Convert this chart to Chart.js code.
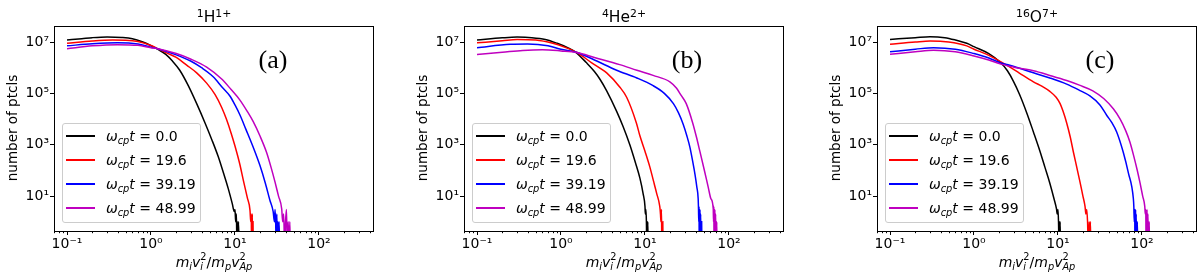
<!DOCTYPE html>
<html><head><meta charset="utf-8">
<script src="https://cdn.jsdelivr.net/npm/chart.js@4.4.1/dist/chart.umd.min.js"></script>
<style>
html,body{margin:0;padding:0;background:#fff;}
#wrap{position:relative;width:1200px;height:276px;overflow:hidden;font-family:"DejaVu Sans",sans-serif;color:#000;}
.panel{position:absolute;top:0;width:400px;height:276px;}
.panel canvas{position:absolute;left:0;top:0;}
.ttl{position:absolute;left:54px;width:320px;text-align:center;top:8px;font-size:15.5px;line-height:18px;white-space:nowrap;}
.ttl sup{font-size:70%;line-height:0;vertical-align:0.45em;}
.ylab{position:absolute;left:-88px;top:120px;width:200px;text-align:center;transform:rotate(-90deg);font-size:13.5px;line-height:16px;white-space:nowrap;}
.xlab{position:absolute;left:54px;width:320px;text-align:center;top:252px;font-size:14px;line-height:16px;white-space:nowrap;}
.xlab i{font-style:italic;}
.xlab sub{font-size:70%;line-height:0;vertical-align:-0.3em;font-style:italic;}
.ss{display:inline-block;vertical-align:-0.35em;font-size:70%;line-height:1.05;text-align:left;}
.ss span{display:block;}
.tag{position:absolute;font-family:"Liberation Serif","Times New Roman",serif;font-size:26px;line-height:29px;top:45px;width:60px;text-align:center;}
.leg{position:absolute;left:62px;top:123px;border:1px solid #cccccc;border-radius:3px;background:rgba(255,255,255,0.8);padding:0 4px 2px 3px;font-size:14px;box-sizing:border-box;}
.row{height:24px;display:flex;align-items:center;white-space:nowrap;}
.hl{display:inline-block;width:29px;height:2px;margin-right:11px;}
.lt i{font-style:italic;}
.lt sub{font-size:70%;line-height:0;vertical-align:-0.3em;font-style:italic;}
</style>
</head><body>
<div id="wrap"></div>
<script>
// ---------- tick labels ----------
const xTicks = [0.1, 1, 10, 100];
const xTickLabels = ['10\u207B\u00B9', '10\u2070', '10\u00B9', '10\u00B2'];
const yTicks = [10, 1e3, 1e5, 1e7];
const yTickLabels = ['10\u00B9', '10\u00B3', '10\u2075', '10\u2077'];

// ---------- series labels ----------
const timeLabels = ['0.0', '19.6', '39.19', '48.99'];
const seriesColors = ['#000000', '#ff0000', '#0000ff', '#bf00bf'];

// ---------- panel (a) 1H1+ : [energy, number of particles] ----------
const H_t0 = [[0.1,1.2e7],[0.15,1.35e7],[0.2,1.48e7],[0.3,1.58e7],[0.45,1.51e7],[0.6,1.35e7],[0.8,1.0e7],[1.0,7.24e6],[1.2,5.25e6],[1.5,3.31e6],[1.8,1.82e6],[2.2,7.94e5],[2.78,2.0e5],[3.5,3.98e4],[4.4,7.08e3],[5.3,1.58e3],[6.3,355],[7.3,79],[8.3,20],[9.3,5],[9.8,2.5],[10.0,3],[10.2,1],[10.4,2],[10.55,0.1],[10.7,1],[10.85,0.1],[11.0,1],[11.2,0.1]];
const H_t19 = [[0.1,8.9e6],[0.2,1.1e7],[0.35,1.2e7],[0.5,1.18e7],[0.7,1.05e7],[1.0,7.3e6],[1.2,5.5e6],[1.6,3.55e6],[2.0,2.51e6],[2.66,1.26e6],[3.5,6.31e5],[4.6,2.51e5],[5.8,8.91e4],[6.95,2.82e4],[7.9,1e4],[9,2.82e3],[10,891],[11.4,178],[12.6,40],[14,8.9],[15.1,2.8],[15.4,1],[15.6,2],[15.8,0.1],[16.0,1],[16.1,2],[16.2,0.1],[16.4,1],[16.5,0.1]];
const H_t39 = [[0.1,7.1e6],[0.2,8.5e6],[0.4,9.3e6],[0.7,8.3e6],[1.0,6.3e6],[1.2,5.5e6],[2,3.16e6],[3,1.78e6],[4,1e6],[5.5,4.47e5],[7,1.78e5],[8.7,7.94e4],[10,3.55e4],[11.5,1.41e4],[13.5,3.98e3],[16.5,794],[19.8,158],[23,32],[26,7.1],[28.5,2.5],[29.5,1],[30,3],[30.5,1],[31,0.1],[31.5,2],[32,0.1],[32.5,1],[33,0.1],[33.5,1],[34,0.1]];
const H_t48 = [[0.1,5.5e6],[0.2,7.1e6],[0.4,7.9e6],[0.7,7.4e6],[1.0,6.0e6],[1.2,5.5e6],[2,3.55e6],[3,2.14e6],[4.6,1.05e6],[7,3.55e5],[9,1.41e5],[11.4,5.62e4],[14,2.0e4],[16.5,7.94e3],[19.8,2.24e3],[23.8,501],[27,126],[30,35],[33,10],[36,3.2],[37,1],[38,2],[39,0.1],[40,1],[41,3],[42,0.1],[43,1],[44,0.1],[45,1],[45.5,0.1]];

// ---------- panel (b) 4He2+ ----------
const He_t0 = [[0.1,1.2e7],[0.2,1.45e7],[0.3,1.55e7],[0.45,1.48e7],[0.65,1.26e7],[0.9,8.91e6],[1.2,6.03e6],[1.5,3.98e6],[2.0,1.58e6],[2.5,7.08e5],[2.91,3.55e5],[3.5,1.26e5],[4.6,2.0e4],[5.5,5.01e3],[6.6,1e3],[7.7,200],[8.7,50],[9.5,12.6],[10,4],[10.1,2],[10.25,3],[10.4,1],[10.5,0.1],[10.6,1],[10.7,0.1],[10.8,1],[10.9,0.1]];
const He_t19 = [[0.1,9.3e6],[0.2,1.12e7],[0.3,1.26e7],[0.5,1.2e7],[0.8,8.9e6],[1.1,6.3e6],[1.55,3.9e6],[2.3,1.58e6],[3.5,6.31e5],[5.0,1.78e5],[6.05,7.08e4],[7.9,7.08e3],[8.7,2.24e3],[10,562],[11.4,141],[12.6,40],[13.8,12.6],[15,4],[15.3,2],[15.5,1],[15.7,3],[15.9,0.1],[16.0,1],[16.2,0.1],[16.3,1],[16.4,0.1]];
const He_t39 = [[0.1,6e6],[0.25,8.1e6],[0.4,8.3e6],[0.7,7.1e6],[1.0,5.2e6],[1.55,3.9e6],[2.5,2e6],[4.6,7.94e5],[8,3.98e5],[12.5,2e5],[17,1e5],[21.8,3.98e4],[25,1.78e4],[28.5,6.31e3],[31.5,2.24e3],[34.3,794],[37,224],[39.4,71],[41.5,22],[43,7.9],[43.4,3],[43.7,1],[44.0,4],[44.3,0.1],[44.6,2],[44.9,1],[45.2,3],[45.5,0.1],[45.8,1],[46.1,2],[46.4,0.1],[46.7,1],[47.0,0.1],[47.3,1],[47.6,0.1]];
const He_t48 = [[0.1,3.3e6],[0.2,4e6],[0.35,4.7e6],[0.6,5e6],[1.0,4.5e6],[1.55,3.9e6],[2.5,2.51e6],[5,1.32e6],[8,7.94e5],[12.5,5.01e5],[19.8,2.82e5],[23.8,1.58e5],[27,8.3e4],[31,3.98e4],[37,7.08e3],[41,2e3],[45,562],[51,100],[56.7,22],[61,7.9],[65,3.2],[65.5,1],[66,4],[66.5,0.1],[67,2],[67.5,1],[68,3],[68.5,0.1],[69,1],[69.5,2],[70,0.1],[70.5,1],[71,0.1],[71.5,1],[72,0.1]];

// ---------- panel (c) 16O7+ ----------
const O_t0 = [[0.1,1.26e7],[0.2,1.48e7],[0.3,1.62e7],[0.45,1.48e7],[0.6,1.2e7],[0.82,8.9e6],[1.0,6.61e6],[1.5,3.55e6],[2.04,1.66e6],[2.5,7.59e5],[2.94,3.02e5],[3.5,8.91e4],[4.24,1.78e4],[5.1,3.16e3],[6.1,562],[7,132],[8,32],[9,7.6],[9.6,3.2],[9.8,2],[10.0,3],[10.15,1],[10.3,0.1],[10.4,1],[10.5,0.1],[10.6,1],[10.7,0.1]];
const O_t19 = [[0.1,8.1e6],[0.2,1.0e7],[0.3,1.1e7],[0.5,1.0e7],[0.82,7.08e6],[1.0,5.25e6],[1.42,3.31e6],[2.45,1.26e6],[3.5,6.03e5],[5.1,2.82e5],[6.5,1.86e5],[8.0,1.2e5],[9.5,7.08e4],[10.6,3.98e4],[11.5,2.0e4],[12.7,7.08e3],[14,2.0e3],[15.3,501],[16.8,126],[18.3,35],[19.7,11],[21,4],[21.5,2],[22,3],[22.5,1],[23,0.1],[23.5,1],[24,0.1],[24.3,1],[24.6,0.1]];
const O_t39 = [[0.1,4.17e6],[0.2,5.25e6],[0.33,6.03e6],[0.6,5.25e6],[1.0,3.55e6],[1.5,2.4e6],[2.04,1.58e6],[3,1.12e6],[5.1,6.31e5],[8,3.98e5],[12.7,2.29e5],[18,1.32e5],[24,7.94e4],[31.6,3.55e4],[38,1.41e4],[44,7.08e3],[50,3.16e3],[60,501],[69,79],[79,7.9],[80,4],[81,1],[82,3],[82.5,0.1],[83,2],[83.5,1],[84,3],[84.5,0.1],[85,1],[85.5,2],[86,0.1],[86.5,1],[87,0.1],[88,1],[89,0.1]];
const O_t48 = [[0.1,3.31e6],[0.2,4.17e6],[0.33,4.79e6],[0.6,4.17e6],[1.0,2.88e6],[1.5,2.0e6],[2.04,1.41e6],[3,1.05e6],[5.1,7.59e5],[8,5.01e5],[12.7,3.16e5],[18,2.09e5],[26,1.26e5],[35,6.31e4],[45.6,2.51e4],[55,1e4],[64,3.55e3],[72,1.26e3],[80,355],[88,100],[95,32],[102,10],[108,4],[109.5,2],[111,3],[112,0.1],[113,2],[114,1],[115,3],[116,0.1],[117,1],[118,2],[119,0.1],[120,1],[121,0.1],[122,1],[123,0.1]];

const panels = [
  {left:0,   title:'<sup>1</sup>H<sup>1+</sup>',  tag:'(a)', tagX:273, series:[H_t0,H_t19,H_t39,H_t48]},
  {left:410, title:'<sup>4</sup>He<sup>2+</sup>', tag:'(b)', tagX:277, series:[He_t0,He_t19,He_t39,He_t48]},
  {left:823, title:'<sup>16</sup>O<sup>7+</sup>', tag:'(c)', tagX:277, series:[O_t0,O_t19,O_t39,O_t48]}
];

const frameAndMinor = {
  id:'frameAndMinor',
  afterDraw(chart){
    const {ctx, chartArea:a} = chart;
    const xs = chart.scales.x;
    ctx.save();
    ctx.strokeStyle = '#000';
    ctx.lineWidth = 1;
    ctx.beginPath();
    for (let k = -2; k <= 2; k++) {
      for (let m = 2; m <= 9; m++) {
        const v = m * Math.pow(10, k);
        if (v < xs.min || v > xs.max) continue;
        const px = Math.round(xs.getPixelForValue(v)) + 0.5;
        ctx.moveTo(px, a.bottom);
        ctx.lineTo(px, a.bottom + 2.2);
      }
    }
    ctx.stroke();
    ctx.strokeRect(Math.round(a.left) + 0.5, Math.round(a.top) + 0.5, Math.round(a.right - a.left), Math.round(a.bottom - a.top));
    ctx.restore();
  }
};

const wrap = document.getElementById('wrap');
const tickFont = {family:'DejaVu Sans', size:14};

panels.forEach((p) => {
  const div = document.createElement('div');
  div.className = 'panel';
  div.style.left = p.left + 'px';
  const cv = document.createElement('canvas');
  cv.width = 400; cv.height = 276;
  cv.style.width = '400px'; cv.style.height = '276px';
  div.appendChild(cv);
  wrap.appendChild(div);

  const datasets = p.series.map((s, i) => ({
    label: '\u03C9cp t = ' + timeLabels[i],
    data: s.map(([x, y]) => ({x, y})),
    borderColor: seriesColors[i],
    backgroundColor: seriesColors[i],
    borderWidth: 1.5,
    pointRadius: 0,
    fill: false,
    cubicInterpolationMode: 'monotone',
    order: 3 - i
  }));

  const chart = new Chart(cv.getContext('2d'), {
    type: 'line',
    data: {datasets},
    options: {
      responsive: false,
      animation: false,
      events: [],
      layout: {padding: {left: 14, right: 27, top: 26, bottom: 15}},
      plugins: {legend: {display: false}, tooltip: {enabled: false}, title: {display: false}},
      scales: {
        x: {
          type: 'logarithmic', min: 0.07, max: 440,
          afterBuildTicks: (s) => { s.ticks = xTicks.map(v => ({value: v})); },
          afterFit: (s) => { s.height = 30; },
          ticks: {autoSkip: false, maxRotation: 0, color: '#000', font: tickFont, padding: 1,
                  callback: (v, i) => xTickLabels[i]},
          grid: {drawOnChartArea: false, color: '#000', tickColor: '#000', tickLength: 4, tickWidth: 1},
          border: {color: '#000', width: 1}
        },
        y: {
          type: 'logarithmic', min: 0.44, max: 4.2e7,
          afterBuildTicks: (s) => { s.ticks = yTicks.map(v => ({value: v})); },
          afterFit: (s) => { s.width = 40; },
          ticks: {autoSkip: false, color: '#000', font: tickFont, padding: 1,
                  callback: (v, i) => yTickLabels[i]},
          grid: {drawOnChartArea: false, color: '#000', tickColor: '#000', tickLength: 4, tickWidth: 1},
          border: {color: '#000', width: 1}
        }
      }
    },
    plugins: [frameAndMinor]
  });

  const ttl = document.createElement('div');
  ttl.className = 'ttl'; ttl.innerHTML = p.title; div.appendChild(ttl);

  const yl = document.createElement('div');
  yl.className = 'ylab'; yl.textContent = 'number of ptcls'; div.appendChild(yl);

  const xl = document.createElement('div');
  xl.className = 'xlab';
  xl.innerHTML = '<i>m</i><sub>i</sub><i>v</i><span class="ss"><span>2</span><span><i>i</i></span></span>/<i>m</i><sub>p</sub><i>v</i><span class="ss"><span>2</span><span><i>Ap</i></span></span>';
  div.appendChild(xl);

  const tg = document.createElement('div');
  tg.className = 'tag'; tg.textContent = p.tag; tg.style.left = (p.tagX - 30) + 'px'; div.appendChild(tg);

  const leg = document.createElement('div');
  leg.className = 'leg';
  leg.innerHTML = chart.data.datasets.map((d, i) =>
    '<div class="row"><span class="hl" style="background:' + d.borderColor + '"></span>' +
    '<span class="lt"><i>\u03C9</i><sub>cp</sub><i>t</i> = ' + timeLabels[i] + '</span></div>').join('');
  div.appendChild(leg);
});
</script>
</body></html>
